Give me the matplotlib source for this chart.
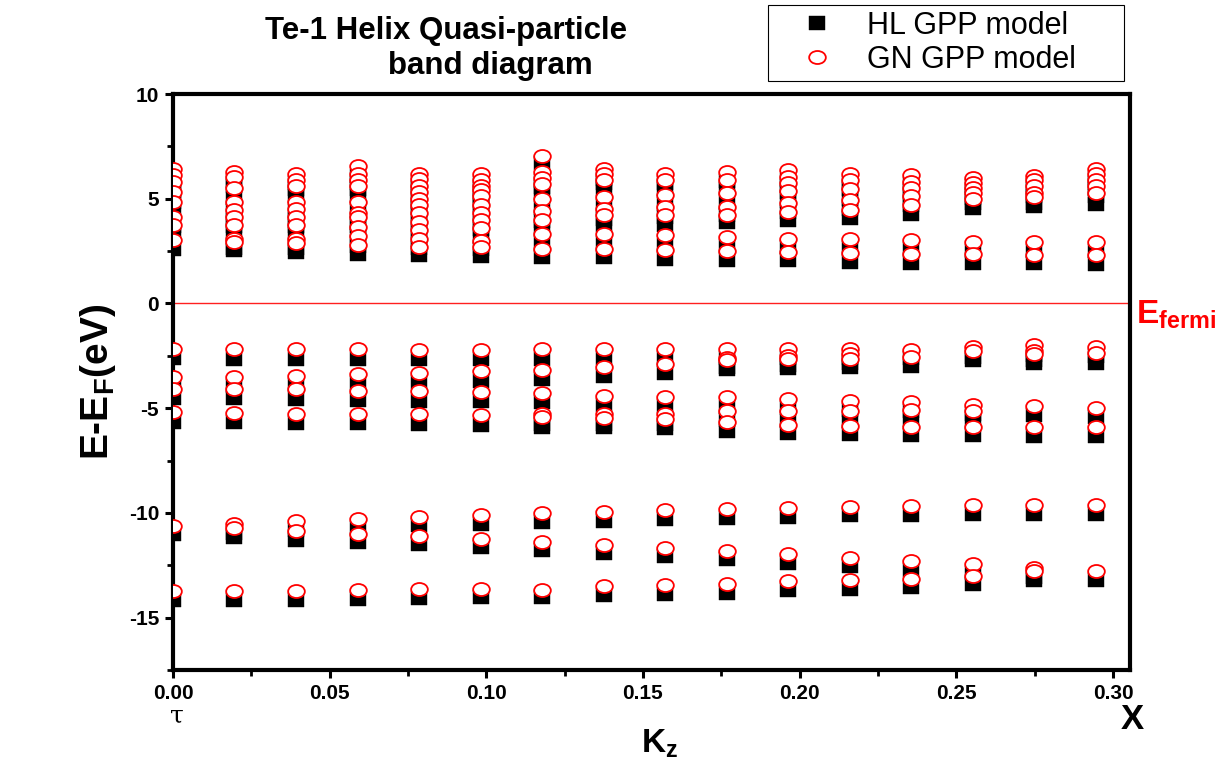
import matplotlib
matplotlib.use('Agg')
import matplotlib.pyplot as plt
from matplotlib.path import Path
from matplotlib.ticker import MultipleLocator, FormatStrFormatter
import matplotlib.transforms as mtransforms
import numpy as np

plt.rcParams['font.family'] = ['Liberation Sans', 'DejaVu Sans']
plt.rcParams['mathtext.fontset'] = 'custom'
plt.rcParams['mathtext.rm'] = 'Liberation Sans'
plt.rcParams['mathtext.bf'] = 'Liberation Sans:bold'
plt.rcParams['mathtext.it'] = 'Liberation Sans:italic'
plt.rcParams['axes.unicode_minus'] = False

# ---------------- data ----------------
kz = [0.0, 0.0196, 0.0393, 0.0589, 0.0785, 0.0982, 0.1178, 0.1374,
      0.1571, 0.1767, 0.1963, 0.2160, 0.2356, 0.2552, 0.2749, 0.2945]

gn_levels = [
    [6.44, 6.12, 5.8, 5.3, 4.85, 4.13, 3.73, 3.01, -2.17, -3.52, -4.08, -5.2, -10.62, -13.73],
    [6.28, 6.05, 5.49, 4.85, 4.45, 4.13, 3.73, 3.1, 2.95, -2.17, -3.49, -4.08, -5.25, -10.51, -10.7, -13.73],
    [6.2, 5.9, 5.6, 4.85, 4.5, 4.13, 3.73, 3.1, 2.87, -2.17, -3.45, -4.1, -5.27, -10.38, -10.86, -13.72],
    [6.55, 6.2, 5.9, 5.6, 4.85, 4.3, 4.13, 3.65, 3.2, 2.78, -2.17, -3.37, -4.16, -5.27, -10.27, -10.99, -13.68],
    [6.2, 5.95, 5.6, 5.3, 5.0, 4.7, 4.3, 3.9, 3.5, 3.1, 2.69, -2.2, -3.32, -4.2, -5.3, -10.19, -11.1, -13.63],
    [6.2, 5.9, 5.6, 5.4, 5.15, 4.7, 4.3, 4.0, 3.6, 3.0, 2.69, -2.2, -3.24, -4.24, -5.33, -10.1, -11.23, -13.63],
    [7.03, 6.28, 6.0, 5.7, 5.0, 4.4, 4.0, 3.33, 2.62, -2.17, -3.17, -4.29, -5.3, -5.4, -10.02, -11.37, -13.67],
    [6.4, 6.2, 5.9, 5.09, 4.5, 4.2, 3.33, 2.62, -2.17, -3.01, -4.4, -5.3, -5.45, -9.94, -11.53, -13.5],
    [6.2, 5.9, 5.2, 4.6, 4.2, 3.25, 2.54, -2.17, -2.89, -4.45, -5.3, -5.5, -9.87, -11.66, -13.46],
    [6.28, 5.9, 5.25, 4.6, 4.21, 3.17, 2.49, -2.17, -2.62, -2.72, -4.48, -5.12, -5.68, -9.82, -11.82, -13.41],
    [6.36, 6.05, 5.75, 5.35, 4.8, 4.37, 3.1, 2.45, -2.17, -2.5, -2.65, -4.56, -5.15, -5.79, -9.78, -11.98, -13.25],
    [6.2, 5.9, 5.45, 4.93, 4.48, 3.06, 2.41, -2.17, -2.4, -2.65, -4.64, -5.15, -5.84, -9.7, -12.14, -13.22],
    [6.12, 5.8, 5.5, 5.15, 4.69, 3.01, 2.38, -2.2, -2.55, -4.72, -5.1, -5.88, -9.66, -12.3, -13.14],
    [6.01, 5.75, 5.5, 5.25, 5.0, 2.93, 2.34, -2.1, -2.25, -4.87, -5.15, -5.88, -9.62, -12.46, -13.01],
    [6.08, 5.9, 5.6, 5.25, 5.09, 2.93, 2.3, -2.0, -2.28, -2.43, -4.9, -5.9, -9.62, -12.65, -12.78],
    [6.44, 6.2, 5.9, 5.6, 5.25, 2.93, 2.3, -2.06, -2.38, -4.99, -5.92, -9.62, -12.78],
]

hl_levels = [
    [6.0, 5.7, 5.35, 4.85, 4.4, 3.7, 3.3, 2.58, -2.6, -3.95, -4.5, -5.64, -11.03, -14.15],
    [5.85, 5.6, 5.05, 4.4, 4.0, 3.7, 3.3, 2.65, 2.53, -2.63, -3.92, -4.52, -5.68, -10.95, -11.15, -14.15],
    [5.75, 5.45, 5.15, 4.4, 4.05, 3.7, 3.3, 2.65, 2.45, -2.63, -3.9, -4.55, -5.7, -10.82, -11.28, -14.15],
    [6.1, 5.75, 5.45, 5.15, 4.4, 3.85, 3.7, 3.2, 2.75, 2.38, -2.63, -3.8, -4.6, -5.72, -10.7, -11.4, -14.1],
    [5.75, 5.5, 5.15, 4.85, 4.55, 4.25, 3.85, 3.45, 3.05, 2.65, 2.32, -2.63, -3.77, -4.65, -5.75, -10.6, -11.5, -14.05],
    [5.75, 5.45, 5.15, 4.95, 4.7, 4.25, 3.85, 3.55, 3.15, 2.6, 2.28, -2.63, -3.7, -4.68, -5.78, -10.52, -11.62, -14.03],
    [6.7, 5.85, 5.55, 5.25, 4.55, 3.95, 3.55, 2.9, 2.22, -2.63, -3.6, -4.72, -5.75, -5.88, -10.45, -11.78, -14.03],
    [5.95, 5.75, 5.45, 4.65, 4.05, 3.75, 2.9, 2.2, -2.62, -3.45, -4.83, -5.75, -5.9, -10.38, -11.93, -13.93],
    [5.75, 5.45, 4.75, 4.15, 3.75, 2.8, 2.12, -2.62, -3.32, -4.88, -5.75, -5.95, -10.3, -12.08, -13.88],
    [5.85, 5.45, 4.8, 4.2, 3.88, 2.75, 2.08, -2.62, -3.05, -3.15, -4.92, -5.55, -6.1, -10.25, -12.22, -13.82],
    [5.9, 5.6, 5.3, 4.9, 4.35, 3.98, 2.68, 2.06, -2.62, -2.95, -3.1, -5.0, -5.6, -6.2, -10.2, -12.4, -13.68],
    [5.75, 5.45, 5.0, 4.5, 4.09, 2.65, 2.0, -2.62, -2.85, -3.02, -5.08, -5.6, -6.22, -10.12, -12.55, -13.62],
    [5.7, 5.35, 5.05, 4.7, 4.26, 2.6, 1.95, -2.62, -2.98, -5.15, -5.55, -6.28, -10.08, -12.72, -13.55],
    [5.6, 5.3, 5.05, 4.8, 4.57, 2.5, 1.93, -2.55, -2.7, -5.3, -5.6, -6.3, -10.03, -12.88, -13.4],
    [5.65, 5.45, 5.15, 4.8, 4.64, 2.5, 1.93, -2.45, -2.7, -2.85, -5.33, -6.32, -10.03, -13.05, -13.18],
    [6.0, 5.75, 5.45, 5.15, 4.76, 2.5, 1.89, -2.5, -2.82, -5.42, -6.32, -10.03, -13.2],
]

x_ticks = [0.00, 0.05, 0.10, 0.15, 0.20, 0.25, 0.30]
y_ticks = [-15, -10, -5, 0, 5, 10]
series_labels = ['HL GPP model', 'GN GPP model']

# ---------------- figure ----------------
fig = plt.figure(figsize=(12.25, 7.68), dpi=100)
fig.patch.set_facecolor('white')
ax = fig.add_axes([0.1412, 0.1276, 0.7812, 0.7500])

# marker shapes (slightly wide, as in the reference)
circ = Path.unit_circle()
ellipse = Path(circ.vertices * np.array([1.0, 0.78]), circ.codes)
rect = Path([[-1.0, -0.85], [1.0, -0.85], [1.0, 0.85], [-1.0, 0.85], [-1.0, -0.85]],
            [Path.MOVETO, Path.LINETO, Path.LINETO, Path.LINETO, Path.CLOSEPOLY])

hl_x = [k for k, lv in zip(kz, hl_levels) for _ in lv]
hl_y = [e for lv in hl_levels for e in lv]
gn_x = [k for k, lv in zip(kz, gn_levels) for _ in lv]
gn_y = [e for lv in gn_levels for e in lv]

h1, = ax.plot(hl_x, hl_y, linestyle='none', marker=rect, markersize=11.8,
              markerfacecolor='black', markeredgecolor='black', markeredgewidth=0.3,
              zorder=2, label=series_labels[0])
h2, = ax.plot(gn_x, gn_y, linestyle='none', marker=ellipse, markersize=12.0,
              markerfacecolor='white', markeredgecolor='red', markeredgewidth=1.3,
              zorder=3, label=series_labels[1])

ax.axhline(0, color='#ff2020', linewidth=1.0, zorder=1)

ax.set_xlim(0, 0.3054)
ax.set_ylim(-17.5, 10)

ax.set_xticks(x_ticks)
ax.set_yticks(y_ticks)
ax.xaxis.set_major_formatter(FormatStrFormatter('%.2f'))
ax.xaxis.set_minor_locator(MultipleLocator(0.025))
ax.yaxis.set_minor_locator(MultipleLocator(2.5))

for s in ax.spines.values():
    s.set_linewidth(3.0)
ax.tick_params(axis='both', which='major', direction='out', length=6, width=2.2,
               labelsize=15, pad=4, top=False, right=False)
ax.tick_params(axis='both', which='minor', direction='out', length=4.5, width=2.0,
               top=False, right=False)
for lab in ax.get_xticklabels() + ax.get_yticklabels():
    lab.set_fontweight('bold')

ax.set_ylabel(r'E-E$_{\mathbf{F}}$(eV)', fontsize=28, fontweight='bold', labelpad=8)

# extra text annotations
fig.text(446 / 1225, 1 - 31 / 768, 'Te-1 Helix Quasi-particle', ha='center', va='center',
         fontsize=22.5, fontweight='bold')
fig.text(490 / 1225, 1 - 66 / 768, 'band diagram', ha='center', va='center',
         fontsize=22.5, fontweight='bold')

fig.text(660 / 1225, 1 - 744 / 768, r'K$_{\mathbf{z}}$', ha='center', va='center',
         fontsize=24, fontweight='bold')
fig.text(177 / 1225, 1 - 704 / 768, '\u03c4', ha='center', va='top',
         fontsize=18, family='DejaVu Serif')
fig.text(1132 / 1225, 1 - 703 / 768, 'X', ha='center', va='top',
         fontsize=25, fontweight='bold')

trans = mtransforms.blended_transform_factory(ax.transAxes, ax.transData)
ax.text(1.006, -0.55, r'E$_{\mathbf{fermi}}$', transform=trans, ha='left', va='center',
        fontsize=24, fontweight='bold', color='red', clip_on=False)

leg = fig.legend(handles=[h1, h2], loc='upper left',
                 bbox_to_anchor=(768 / 1225, 1 - 5 / 768, 356 / 1225, 0.0),
                 mode='expand', fontsize=22, frameon=True, fancybox=False, framealpha=1,
                 edgecolor='black', borderpad=0.2, labelspacing=0.12,
                 handletextpad=0.25, handlelength=2.8, borderaxespad=0)
leg.get_frame().set_linewidth(0.8)

fig.savefig('out.png', dpi=100, facecolor='white')
